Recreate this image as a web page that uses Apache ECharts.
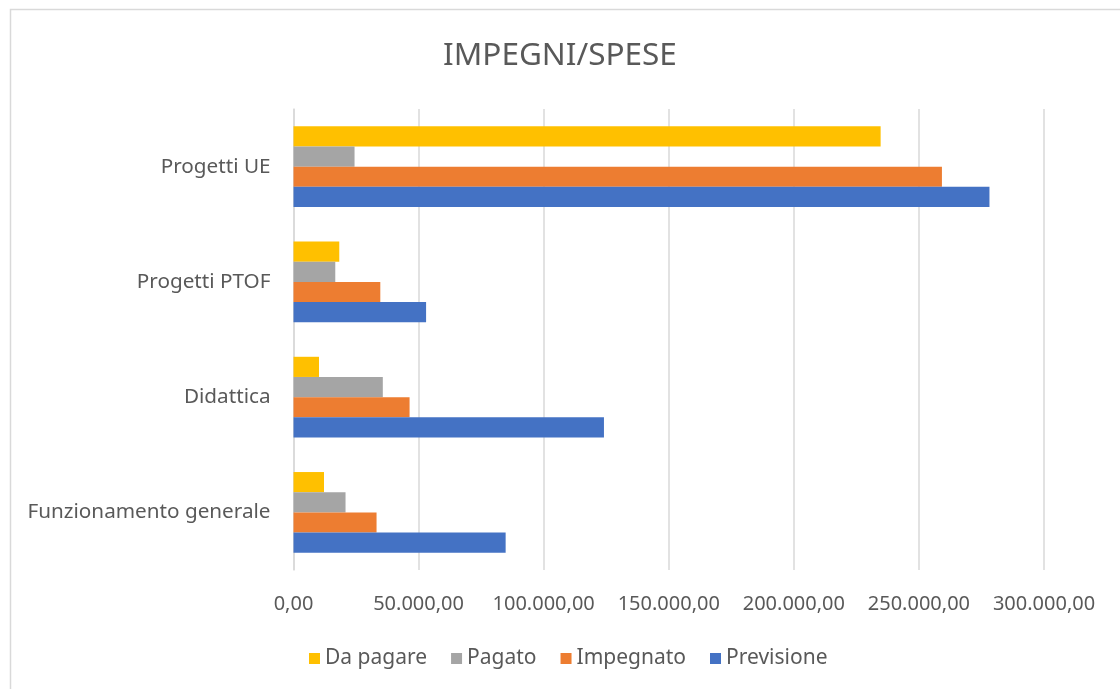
<!DOCTYPE html>
<html>
<head>
<meta charset="utf-8">
<script src="https://cdn.jsdelivr.net/npm/echarts@6/dist/echarts.min.js"></script>
<style>html,body{margin:0;padding:0;background:#fff}#c{width:1120px;height:689px}</style>
</head>
<body>
<div id="c"></div>
<script>
var categories = ['Funzionamento generale', 'Didattica', 'Progetti PTOF', 'Progetti UE'];
var previsione = [84800, 124100, 53000, 278200];
var impegnato = [33200, 46400, 34700, 259200];
var pagato = [20800, 35700, 16700, 24400];
var daPagare = [12200, 10200, 18300, 234700];
var legendOrder = ['Da pagare', 'Pagato', 'Impegnato', 'Previsione'];
var title = 'IMPEGNI/SPESE';

var FONT = '"Noto Sans", sans-serif';
function fmt(v) {
  var s = Math.round(v).toString().replace(/\B(?=(\d{3})+(?!\d))/g, '.');
  return s + ',00';
}
var chart = echarts.init(document.getElementById('c'));
function bar(name, data, color) {
  return { name: name, type: 'bar', data: data, barGap: '0%', barCategoryGap: '30%',
    itemStyle: { color: color } };
}
chart.setOption({
  animation: false,
  backgroundColor: '#fff',
  textStyle: { fontFamily: FONT },
  title: { text: title, left: 'center', top: 35,
    textStyle: { fontSize: 31.5, fontWeight: 'normal', color: '#595959', fontFamily: FONT } },
  grid: { left: 293.5, right: 76, top: 109, bottom: 119 },
  legend: { data: legendOrder, left: 304, top: 643, itemWidth: 11, itemHeight: 11, itemGap: 24,
    icon: 'rect', textStyle: { fontSize: 21, color: '#595959', fontFamily: FONT } },
  xAxis: { type: 'value', min: 0, max: 300000, interval: 50000,
    axisLine: { show: false }, axisTick: { show: false },
    splitLine: { lineStyle: { color: '#d9d9d9', width: 1.5 } },
    axisLabel: { formatter: fmt, fontSize: 20, color: '#595959', margin: 24 } },
  yAxis: { type: 'category', data: categories,
    axisLine: { show: true, lineStyle: { color: '#d9d9d9', width: 1.5 } },
    axisTick: { show: false },
    axisLabel: { fontSize: 20.7, color: '#595959', margin: 23 } },
  series: [
    bar('Da pagare', daPagare, '#ffc000'),
    bar('Pagato', pagato, '#a5a5a5'),
    bar('Impegnato', impegnato, '#ed7d31'),
    bar('Previsione', previsione, '#4472c4')
  ],
  graphic: [{ type: 'rect', shape: { x: 10.5, y: 9.5, width: 1300, height: 900 },
    style: { fill: null, stroke: '#d9d9d9', lineWidth: 1.5 }, silent: true }]
});
</script>
</body>
</html>
